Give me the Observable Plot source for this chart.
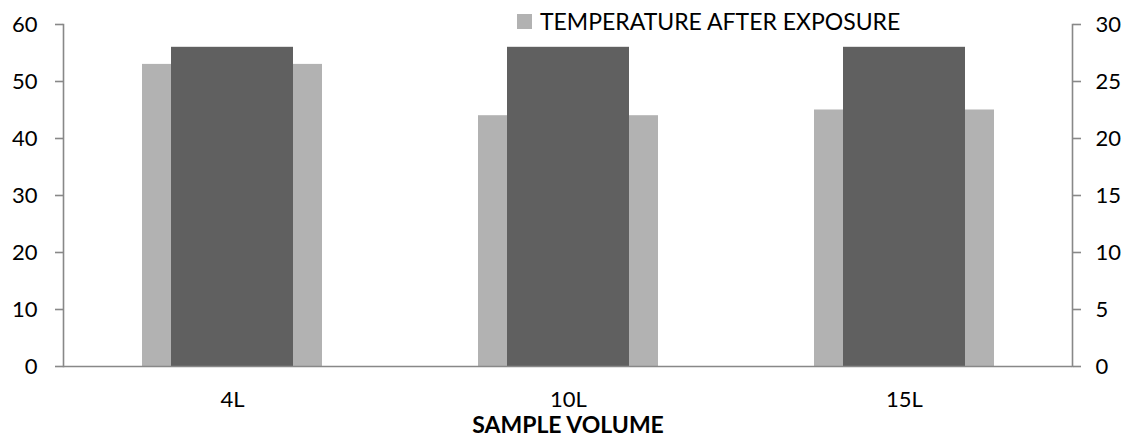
<!DOCTYPE html>
<html>
<head>
<meta charset="utf-8">
<script src="https://cdn.jsdelivr.net/npm/d3@7"></script>
<script src="https://cdn.jsdelivr.net/npm/@observablehq/plot@0.6"></script>
<style>
  html, body { margin: 0; padding: 0; background: #fff; }
  #wrap { position: relative; width: 1128px; height: 438px; font-family: Lato, "Open Sans", sans-serif; }
  #legend { position: absolute; left: 517px; top: 7px; display: flex; align-items: center; font-size: 23px; color: #000; white-space: nowrap; }
  #legend .sw { width: 15px; height: 15px; background: #b2b2b2; margin-right: 8px; }
</style>
</head>
<body>
<div id="wrap">
  <div id="chart"></div>
  <div id="legend"><span class="sw"></span><span>TEMPERATURE AFTER EXPOSURE</span></div>
</div>
<script>
const categories = ["4L", "10L", "15L"];
const temperatureAfter = [53, 44, 45];      // left axis (light bars)
const secondSeries = [28, 28, 28];          // right axis (dark bars)
const leftTicks = [0, 10, 20, 30, 40, 50, 60];
const xLabel = "SAMPLE VOLUME";
const legendLabel = "TEMPERATURE AFTER EXPOSURE";

const rightToLeft = 60 / 30;
const lightData = categories.map((c, i) => ({cat: c, v: temperatureAfter[i]}));
const darkData = categories.map((c, i) => ({cat: c, v: secondSeries[i] * rightToLeft}));

const axisColor = "#888888";

const chart = Plot.plot({
  width: 1128,
  height: 438,
  marginLeft: 63,
  marginRight: 56,
  marginTop: 24,
  marginBottom: 72,
  style: {fontFamily: "Lato, 'Open Sans', sans-serif", fontSize: "22px", color: "#000", background: "#fff"},
  x: {domain: categories, padding: 0},
  y: {domain: [0, 60]},
  marks: [
    Plot.barY(lightData, {x: "cat", y: "v", fill: "#b2b2b2", insetLeft: 78, insetRight: 78}),
    Plot.barY(darkData, {x: "cat", y: "v", fill: "#606060", insetLeft: 107, insetRight: 107}),
    Plot.frame({anchor: "left", stroke: axisColor, strokeWidth: 1.6}),
    Plot.frame({anchor: "right", stroke: axisColor, strokeWidth: 1.6}),
    Plot.ruleY([0], {stroke: axisColor, strokeWidth: 1.6}),
    Plot.axisY({anchor: "left", ticks: leftTicks, tickSize: 8, tickPadding: 18, stroke: axisColor, strokeWidth: 1.6, label: null, fill: "#000"}),
    Plot.axisY({anchor: "right", ticks: leftTicks, tickFormat: d => d / rightToLeft, tickSize: 8, tickPadding: 15, stroke: axisColor, strokeWidth: 1.6, label: null, fill: "#000"}),
    Plot.axisX({tickSize: 0, tickPadding: 25, label: null, fill: "#000"}),
    Plot.text([xLabel], {frameAnchor: "bottom", dy: 59, fontWeight: "bold", fontSize: 23, fill: "#000", lineAnchor: "middle"})
  ]
});
document.getElementById("chart").appendChild(chart);
</script>
</body>
</html>
